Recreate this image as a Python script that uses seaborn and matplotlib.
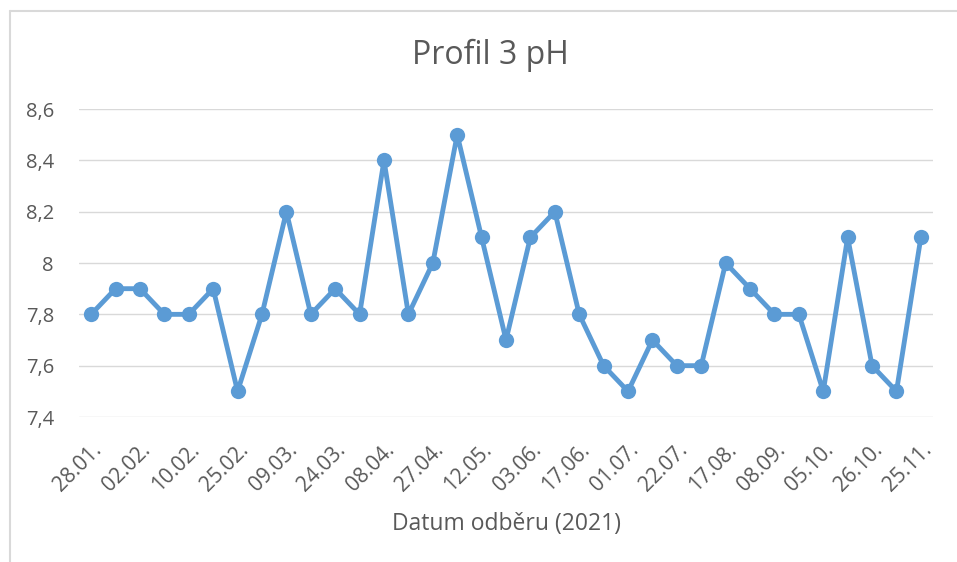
import matplotlib
matplotlib.use("Agg")
import matplotlib.pyplot as plt
import seaborn as sns
import pandas as pd
from matplotlib.lines import Line2D

# ---- data ----
ph_values = [7.8, 7.9, 7.9, 7.8, 7.8, 7.9, 7.5, 7.8, 8.2, 7.8, 7.9, 7.8, 8.4, 7.8,
             8.0, 8.5, 8.1, 7.7, 8.1, 8.2, 7.8, 7.6, 7.5, 7.7, 7.6, 7.6, 8.0, 7.9,
             7.8, 7.8, 7.5, 8.1, 7.6, 7.5, 8.1]
tick_labels = ["28.01.", "02.02.", "10.02.", "25.02.", "09.03.", "24.03.", "08.04.",
               "27.04.", "12.05.", "03.06.", "17.06.", "01.07.", "22.07.", "17.08.",
               "08.09.", "05.10.", "26.10.", "25.11."]
y_ticks = [7.4, 7.6, 7.8, 8.0, 8.2, 8.4, 8.6]
y_tick_labels = ["7,4", "7,6", "7,8", "8", "8,2", "8,4", "8,6"]
title = "Profil 3 pH"
xlabel = "Datum odběru (2021)"

df = pd.DataFrame({"idx": list(range(len(ph_values))), "pH": ph_values})

sns.set_theme(style="white")
plt.rcParams["font.family"] = ["Open Sans", "DejaVu Sans"]

fig = plt.figure(figsize=(9.57, 5.62), dpi=100)
ax = fig.add_axes([0.0825, 0.258, 0.8925, 0.548])

line_color = "#5B9BD5"
sns.lineplot(data=df, x="idx", y="pH", ax=ax, color=line_color, linewidth=3.5,
             marker="o", markersize=11, markeredgewidth=0, zorder=3)

ax.set_xlim(-0.5, len(ph_values) - 0.5)
ax.set_ylim(7.4, 8.6)
ax.set_yticks(y_ticks)
ax.set_yticklabels(y_tick_labels)
ax.set_xticks(list(range(0, len(ph_values), 2)))
ax.set_xticklabels(tick_labels, rotation=45, ha="right", va="top",
                   rotation_mode="anchor")

text_color = "#595959"
ax.tick_params(axis="both", length=0, colors=text_color, labelsize=14.5)
ax.tick_params(axis="x", pad=16, labelsize=15)
ax.tick_params(axis="y", pad=18)
for s in ax.spines.values():
    s.set_visible(False)
ax.grid(axis="y", color="#D9D9D9", linewidth=1.0)
ax.set_axisbelow(True)

ax.set_ylabel("")
ax.set_xlabel(xlabel, fontsize=16.5, color=text_color, labelpad=12)
fig.text(0.512, 0.902, title, ha="center", va="center", fontsize=23, color=text_color)

# chart border (partially visible frame)
fig.add_artist(Line2D([0.0105, 0.0105], [0.0, 0.981], transform=fig.transFigure,
                      color="#D9D9D9", linewidth=1.5))
fig.add_artist(Line2D([0.0105, 1.0], [0.981, 0.981], transform=fig.transFigure,
                      color="#D9D9D9", linewidth=1.5))

fig.savefig("out.png", dpi=100, facecolor="white")
